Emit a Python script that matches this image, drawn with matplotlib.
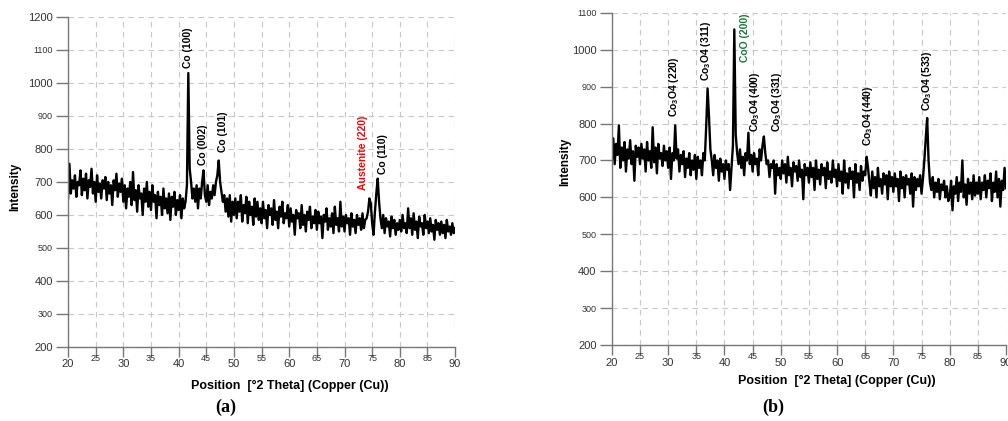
import numpy as np
import matplotlib
matplotlib.use("Agg")
import matplotlib.pyplot as plt
from matplotlib.ticker import FixedLocator

plt.rcParams['font.family'] = ['Liberation Sans', 'DejaVu Sans']
plt.rcParams['mathtext.fontset'] = 'custom'
plt.rcParams['mathtext.rm'] = 'Liberation Sans'
plt.rcParams['mathtext.bf'] = 'Liberation Sans:bold'
plt.rcParams['mathtext.default'] = 'regular'

# 2-theta grid, 0.25 deg step from 20 to 90
two_theta = np.arange(20, 90.001, 0.25)

# (a) pattern (one row = 5 degrees)
intensity_a = [
    650, 755, 665, 705, 680, 720, 655, 700, 690, 735, 660, 710, 675, 725, 650, 705, 685, 740, 665, 700,
    640, 720, 670, 695, 650, 705, 680, 715, 645, 700, 665, 690, 630, 705, 675, 725, 655, 695, 670, 710,
    640, 690, 620, 680, 655, 700, 630, 730, 645, 675, 610, 690, 650, 665, 600, 680, 640, 700, 625, 670,
    615, 690, 640, 660, 590, 670, 630, 655, 600, 680, 620, 650, 605, 665, 585, 655, 625, 670, 600, 645,
    615, 660, 590, 650, 620, 640, 690, 1030, 740, 700, 650, 680, 640, 690, 620, 680, 650, 700, 735, 660,
    640, 690, 630, 670, 650, 690, 660, 700, 720, 765, 700, 670, 640, 660, 610, 650, 595, 660, 580, 640,
    600, 650, 590, 640, 610, 660, 580, 630, 605, 655, 575, 640, 600, 625, 570, 650, 595, 640, 585, 620,
    575, 640, 590, 615, 560, 630, 600, 620, 570, 645, 585, 610, 560, 625, 595, 640, 575, 605, 590, 630,
    565, 620, 580, 600, 540, 615, 590, 605, 560, 630, 570, 600, 550, 610, 585, 625, 560, 595, 575, 615,
    555, 610, 575, 595, 530, 600, 580, 620, 555, 590, 565, 605, 545, 625, 570, 590, 550, 640, 565, 595,
    550, 600, 575, 590, 540, 605, 565, 585, 545, 600, 570, 590, 555, 605, 560, 585, 590, 610, 650, 635,
    575, 540, 610, 665, 710, 640, 590, 560, 600, 545, 590, 565, 580, 535, 595, 560, 585, 540, 575, 555,
    585, 550, 600, 560, 575, 545, 620, 560, 590, 540, 605, 555, 580, 530, 595, 565, 575, 540, 600, 560,
    580, 545, 590, 550, 570, 525, 585, 555, 575, 540, 580, 545, 570, 530, 585, 550, 565, 540, 575, 545,
    560,
]

# (b) pattern
intensity_b = [
    700, 760, 690, 745, 715, 795, 680, 735, 700, 750, 670, 730, 705, 755, 690, 725, 645, 740, 710, 735,
    690, 745, 705, 730, 670, 750, 700, 725, 680, 790, 695, 735, 665, 745, 705, 720, 685, 740, 700, 725,
    680, 735, 650, 720, 700, 795, 705, 730, 670, 715, 690, 725, 655, 705, 680, 720, 660, 700, 675, 715,
    650, 710, 680, 700, 660, 720, 700, 790, 895, 820, 730, 700, 660, 715, 680, 700, 645, 705, 670, 690,
    650, 700, 675, 690, 620, 680, 740, 1055, 770, 720, 690, 730, 680, 710, 660, 720, 700, 775, 690, 715,
    670, 720, 690, 705, 660, 730, 700, 740, 765, 720, 690, 700, 655, 690, 680, 700, 610, 690, 660, 680,
    650, 700, 665, 690, 640, 710, 660, 680, 630, 695, 670, 685, 645, 700, 655, 675, 595, 690, 660, 680,
    640, 695, 655, 680, 620, 700, 650, 675, 635, 690, 660, 680, 625, 695, 650, 670, 640, 700, 655, 675,
    630, 690, 645, 670, 610, 700, 640, 665, 625, 680, 650, 670, 600, 690, 640, 665, 620, 685, 645, 670,
    660, 710, 680, 640, 605, 670, 625, 655, 600, 680, 630, 650, 610, 665, 635, 660, 595, 670, 630, 655,
    615, 665, 630, 650, 590, 670, 625, 655, 600, 660, 635, 650, 610, 665, 575, 655, 620, 650, 630, 660,
    610, 650, 700, 760, 815, 700, 640, 620, 655, 600, 640, 615, 650, 595, 635, 620, 645, 600, 630, 590,
    600, 645, 565, 630, 610, 655, 590, 640, 615, 700, 600, 635, 580, 650, 610, 640, 595, 660, 605, 640,
    610, 655, 595, 640, 620, 660, 600, 645, 625, 665, 590, 640, 615, 670, 600, 650, 575, 645, 620, 680,
    625,
]

# peak labels: text, x, bottom y, colour
labels_a = [
    ("Co (100)", 41.7, 1045, "black"),
    ("Co (002)", 44.4, 750, "black"),
    ("Co (101)", 48.0, 792, "black"),
    ("Austenite (220)", 73.3, 676, "red"),
    ("Co (110)", 77.0, 724, "black"),
]
labels_b = [
    ("Co$_3$O4 (220)", 31.1, 819, "black"),
    ("Co$_3$O4 (311)", 36.7, 916, "black"),
    ("CoO (200)", 43.6, 968, "#1a7a3a"),
    ("Co$_3$O4 (400)", 45.5, 778, "black"),
    ("Co$_3$O4 (331)", 49.3, 777, "black"),
    ("Co$_3$O4 (440)", 65.5, 739, "black"),
    ("Co$_3$O4 (533)", 75.9, 834, "black"),
]

xticks = list(range(20, 95, 5))
small_y = [1100, 900, 500, 300]


def draw_panel(ax, y, ymax, labels):
    ax.plot(two_theta, y, color='black', lw=1.7)
    ax.set_xlim(20, 90)
    ax.set_ylim(200, ymax)
    yt = list(range(200, ymax + 1, 100))
    ax.yaxis.set_major_locator(FixedLocator(yt))
    ax.xaxis.set_major_locator(FixedLocator(xticks))
    ax.grid(True, ls=(0, (5, 4)), color='#c8c8c8', lw=0.8)
    for s in ['top', 'right']:
        ax.spines[s].set_visible(False)
    for s in ['left', 'bottom']:
        ax.spines[s].set_color('#777777')
        ax.spines[s].set_linewidth(1.0)
    ax.tick_params(axis='y', length=9, color='#777777', width=1.0, pad=2)
    ax.tick_params(axis='x', length=7, color='#777777', width=1.0, pad=2)
    ax.set_yticklabels([str(v) for v in yt])
    ax.set_xticklabels([str(v) for v in xticks])
    for t, v in zip(ax.get_yticklabels(), yt):
        t.set_color('#333333')
        t.set_fontsize(6.5 if v in small_y else 8)
    for t, v in zip(ax.get_xticklabels(), xticks):
        t.set_color('#333333')
        if v % 10:
            t.set_fontsize(6.5)
            t.set_y(0.018)
        else:
            t.set_fontsize(8)
    for txt, x, yb, c in labels:
        ax.text(x, yb, txt, rotation=90, ha='center', va='bottom',
                fontsize=7.5, color=c, fontweight='bold')


fig = plt.figure(figsize=(10.08, 4.21), dpi=100)
ax1 = fig.add_axes([0.0675, 0.1758, 0.384, 0.784])
ax2 = fig.add_axes([0.607, 0.1805, 0.391, 0.789])

draw_panel(ax1, intensity_a, 1200, labels_a)
draw_panel(ax2, intensity_b, 1100, labels_b)

fig.text(15 / 1008, 1 - 187 / 421, 'Intensity', rotation=90, ha='center', va='center',
         fontsize=8.5, fontweight='bold')
fig.text(565 / 1008, 1 - 162 / 421, 'Intensity', rotation=90, ha='center', va='center',
         fontsize=8.5, fontweight='bold')
fig.text(290 / 1008, 1 - 386 / 421, 'Position  [\u00b02 Theta] (Copper (Cu))', ha='center',
         va='center', fontsize=9, fontweight='bold')
fig.text(837 / 1008, 1 - 381 / 421, 'Position  [\u00b02 Theta] (Copper (Cu))', ha='center',
         va='center', fontsize=9, fontweight='bold')
fig.text(226 / 1008, 1 - 407 / 421, '(a)', ha='center', va='center', fontsize=13,
         fontweight='bold', family=['Liberation Serif', 'DejaVu Serif'])
fig.text(773 / 1008, 1 - 407 / 421, '(b)', ha='center', va='center', fontsize=13,
         fontweight='bold', family=['Liberation Serif', 'DejaVu Serif'])

fig.savefig('out.png', dpi=100)
